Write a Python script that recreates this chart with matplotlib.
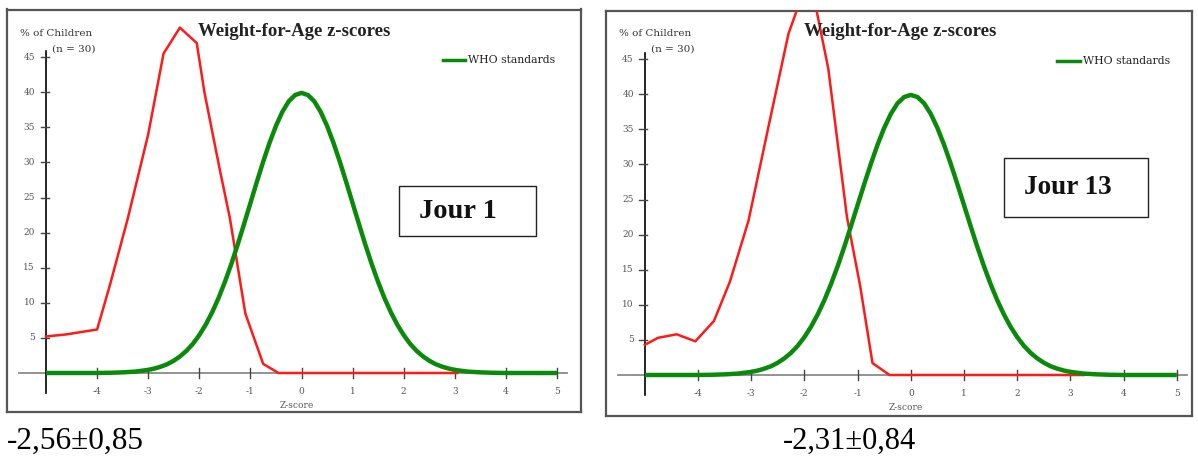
import matplotlib
matplotlib.use("Agg")
import matplotlib.pyplot as plt
from matplotlib.patches import Rectangle
from matplotlib.lines import Line2D

W, H = 1198, 457

# WHO standard curve (% of children)
who_z = [-5, -4.5, -4, -3.75, -3.5, -3.25, -3, -2.875, -2.75, -2.625, -2.5, -2.375, -2.25, -2.125,
         -2, -1.875, -1.75, -1.625, -1.5, -1.375, -1.25, -1.125, -1, -0.875, -0.75, -0.625,
         -0.5, -0.375, -0.25, -0.125, 0, 0.125, 0.25, 0.375, 0.5, 0.625, 0.75, 0.875,
         1, 1.125, 1.25, 1.375, 1.5, 1.625, 1.75, 1.875, 2, 2.125, 2.25, 2.375, 2.5,
         2.625, 2.75, 2.875, 3, 3.25, 3.5, 3.75, 4, 4.5, 5]
who_pct = [0, 0, 0, 0.03, 0.09, 0.2, 0.44, 0.64, 0.91, 1.26, 1.75, 2.38, 3.17, 4.16,
           5.4, 6.88, 8.63, 10.65, 12.95, 15.5, 18.26, 21.2, 24.2, 27.2, 30.1, 32.8,
           35.2, 37.2, 38.7, 39.6, 39.9, 39.6, 38.7, 37.2, 35.2, 32.8, 30.1, 27.2,
           24.2, 21.2, 18.26, 15.5, 12.95, 10.65, 8.63, 6.88, 5.4, 4.16, 3.17, 2.38, 1.75,
           1.26, 0.91, 0.64, 0.44, 0.2, 0.09, 0.03, 0, 0, 0]

# children, day 1
j1_z = [-5, -4.6, -4.0, -3.75, -3.4, -3.0, -2.7, -2.38, -2.05, -1.9, -1.6, -1.4, -1.1, -0.75, -0.45, 0, 1, 2, 3.05]
j1_pct = [5.2, 5.5, 6.2, 12.5, 22, 34, 45.5, 49.2, 47, 40, 29, 22, 8.5, 1.3, 0, 0, 0, 0, 0]

# children, day 13
j13_z = [-5, -4.75, -4.4, -4.05, -3.7, -3.4, -3.05, -2.7, -2.3, -2.0, -1.8, -1.55, -1.2, -0.95, -0.72, -0.4, 0, 1, 2, 3.25]
j13_pct = [4.3, 5.3, 5.8, 4.8, 7.7, 13.3, 22, 34.5, 48.6, 55, 53, 43.6, 22.5, 12.6, 1.7, 0, 0, 0, 0, 0]

y_ticks = [5, 10, 15, 20, 25, 30, 35, 40, 45]
x_ticks = [-4, -3, -2, -1, 0, 1, 2, 3, 4, 5]

panels = [
    dict(z=j1_z, pct=j1_pct, label="Jour 1", stat="-2,56\u00b10,85",
         box=(7, 9.5, 581, 412), x0=46, ux=51.1, y0=373, uy=7.02,
         jbox=(399, 186, 536, 236), stat_x=7, stat_fs=22.5, tick_y=391, zlab_y=405,
         leg=(443, 465, 60), title_x=294),
    dict(z=j13_z, pct=j13_pct, label="Jour 13", stat="-2,31\u00b10,84",
         box=(606, 10.7, 1192, 416), x0=644.8, ux=53.2, y0=375, uy=7.02,
         jbox=(1004, 158, 1148, 217), stat_x=783, stat_fs=22, tick_y=394, zlab_y=408,
         leg=(1057, 1080, 61), title_x=900),
]

serif = "Liberation Serif"
small = "DejaVu Serif"
tick_col = "#555555"

fig = plt.figure(figsize=(W / 100, H / 100), dpi=100)


def fx(px):
    return px / W


def fy(py):
    return 1 - py / H


for p in panels:
    l, t, r, b = p["box"]
    ax = fig.add_axes([fx(l), fy(b), (r - l) / W, (b - t) / H])
    # data limits so that pixel layout matches the frame
    ax.set_xlim(-5 + (l - p["x0"]) / p["ux"], -5 + (r - p["x0"]) / p["ux"])
    ax.set_ylim((p["y0"] - b) / p["uy"], (p["y0"] - t) / p["uy"])
    ax.set_xticks([])
    ax.set_yticks([])
    for s in ax.spines.values():
        s.set_color("#555555")
        s.set_linewidth(1.6)

    # axis lines
    ax.plot([-5 + (l + 12 - p["x0"]) / p["ux"], 5.2], [0, 0], color="#8a8a8a", lw=1.3, zorder=1)
    ax.plot([-5, -5], [-2.9, 45.8], color="black", lw=1.2, zorder=1)
    for v in y_ticks:
        ax.plot([-5.1, -4.95], [v, v], color="#444444", lw=1.0)
        fig.text(fx(p["x0"] - 11), fy(p["y0"] - v * p["uy"]), str(v), ha="right", va="center",
                 fontsize=6.5, color=tick_col, family=small)
    for v in x_ticks:
        ax.plot([v, v], [-0.65, 0.65], color="#444444", lw=1.0)
        fig.text(fx(p["x0"] + (v + 5) * p["ux"]), fy(p["tick_y"]), str(v), ha="center", va="center",
                 fontsize=6.5, color=tick_col, family=small)

    ax.plot(p["z"], p["pct"], color="#ff1a1a", lw=1.8, zorder=3)
    ax.plot(who_z, who_pct, color="#0a8a0a", lw=3.2, zorder=4, solid_capstyle="butt")

    # titles and labels
    fig.text(fx(p["title_x"]), fy(32), "Weight-for-Age z-scores", ha="center", va="center",
             fontsize=13.5, fontweight="bold", family=serif, color="#222222")
    fig.text(fx(p["x0"] - 26), fy(34), "% of Children", ha="left", va="center",
             fontsize=7.5, family=small, color="#333333")
    fig.text(fx(p["x0"] + 6), fy(49), "(n = 30)", ha="left", va="center",
             fontsize=7.5, family=small, color="#333333")
    fig.text(fx(p["x0"] + 5 * p["ux"] - 5), fy(p["zlab_y"]), "Z-score", ha="center", va="center",
             fontsize=6.5, family=small, color=tick_col)

    lx0, lx1, ly = p["leg"]
    fig.add_artist(Line2D([fx(lx0), fx(lx1)], [fy(ly), fy(ly)], color="#0a8a0a", lw=2.5))
    fig.text(fx(lx1 + 3), fy(ly), "WHO standards", ha="left", va="center",
             fontsize=7.8, family=small, color="#222222")

    jl, jt, jr, jb = p["jbox"]
    fig.add_artist(Rectangle((fx(jl), fy(jb)), (jr - jl) / W, (jb - jt) / H, fill=True,
                             facecolor="white", edgecolor="#222222", lw=1.0, zorder=5))
    fig.text(fx(jl + 20), fy((jt + jb) / 2), p["label"], ha="left", va="center",
             fontsize=20.5 if p["label"] == "Jour 1" else 19.5, fontweight="bold",
             family=serif, color="#111111", zorder=6)

    fig.text(fx(p["stat_x"]), fy(441), p["stat"], ha="left", va="center",
             fontsize=p["stat_fs"], family=serif, color="black")

fig.savefig("out.png", dpi=100)
